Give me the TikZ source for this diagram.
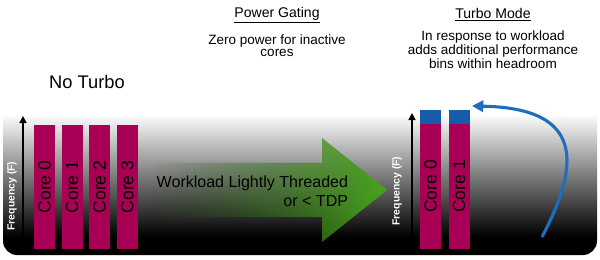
\documentclass[tikz,border=0pt]{standalone}
\usepackage{fontspec}
\setmainfont{Liberation Sans}
\usetikzlibrary{positioning, arrows.meta, fadings}

\definecolor{corered}{RGB}{168,0,84}
\definecolor{coreblue}{RGB}{22,92,170}
\definecolor{turboblue}{RGB}{30,110,190}
\definecolor{loadgreen}{RGB}{72,165,28}

\pgfdeclareverticalshading{panelshade}{100bp}{color(0bp)=(black); color(31bp)=(black);
  color(50bp)=(black!55); color(72bp)=(white); color(100bp)=(white)}
\tikzfading[name=loadfade, left color=transparent!100, middle color=transparent!30,
  right color=transparent!0]

\begin{document}
\begin{tikzpicture}[
  x=0.025cm, y=-0.025cm,
  core/.style={fill=corered, minimum width=0.525cm, minimum height=3.1cm, inner sep=0pt,
               font=\fontsize{12.5}{14}\selectfont},
  bin/.style={fill=coreblue, minimum width=0.525cm, minimum height=0.35cm, inner sep=0pt},
  freq/.style={-{Triangle[length=5pt, width=5pt]}, line width=1.1pt, black},
  flbl/.style={rotate=90, text=white, font=\fontsize{7.4}{8}\selectfont\bfseries, inner sep=0pt},
  head/.style={font=\fontsize{10}{12}\selectfont, align=center},
  desc/.style={font=\fontsize{9.6}{8.6}\selectfont, align=center},
  turbo/.style={-{Triangle[length=8pt, width=8pt]}, line width=2.2pt, turboblue},
]
\useasboundingbox (0,0) rectangle (600,259);

% ---------- Background panel ----------
\shade[shading=panelshade, rounded corners=10pt] (3,105) rectangle (597,255);

% ---------- Headings ----------
\node[font=\fontsize{13}{15}\selectfont] (noturbo) at (87,82) {No Turbo};
\node[head] (pgtitle) at (277,15) {\underline{Power Gating}};
\node[desc] (pgtext) at (277,46) {Zero power for inactive\\cores};
\node[head] (tmtitle) at (493,15) {\underline{Turbo Mode}};
\node[desc] (tmtext) at (493,50) {In response to workload\\adds additional performance\\bins within headroom};

% ---------- No Turbo: four cores ----------
\node[core] (c0) at (44.5,187) {\rotatebox{90}{Core 0}};
\node[core, right=0.15cm of c0] (c1) {\rotatebox{90}{Core 1}};
\node[core, right=0.15cm of c1] (c2) {\rotatebox{90}{Core 2}};
\node[core, right=0.15cm of c2] (c3) {\rotatebox{90}{Core 3}};

\coordinate (f0b) at (23,252);
\coordinate (f0t) at (23,116);
\draw[freq] (f0b) -- (f0t);
\node[flbl] (f0lbl) at (12,196) {Frequency (F)};

% ---------- Workload arrow ----------
\shade[left color=loadgreen!45!black, right color=loadgreen, path fading=loadfade]
  (150,163) -- (322,163) -- (322,138) -- (387,190) -- (322,242) -- (322,217) -- (150,217) -- cycle;
\node[font=\fontsize{11.4}{13.7}\selectfont, align=right, anchor=east] (load) at (353,191)
  {Workload Lightly Threaded\\or < TDP};

% ---------- Turbo Mode: two cores with extra bins ----------
\node[core] (t0) at (430.5,186.5) {\rotatebox{90}{Core 0}};
\node[core, right=0.175cm of t0] (t1) {\rotatebox{90}{Core 1}};
\node[bin, above=0.3pt of t0] (b0) {};
\node[bin, above=0.3pt of t1] (b1) {};

\coordinate (f1b) at (412,250);
\coordinate (f1t) at (412,113);
\draw[freq] (f1b) -- (f1t);
\node[flbl] (f1lbl) at (397,191) {Frequency (F)};

\coordinate (tb) at (542,237);
\coordinate (tt) at (472,106);
\draw[turbo] (tb) .. controls (580,165) and (585,108) .. (tt);

\end{tikzpicture}
\end{document}
